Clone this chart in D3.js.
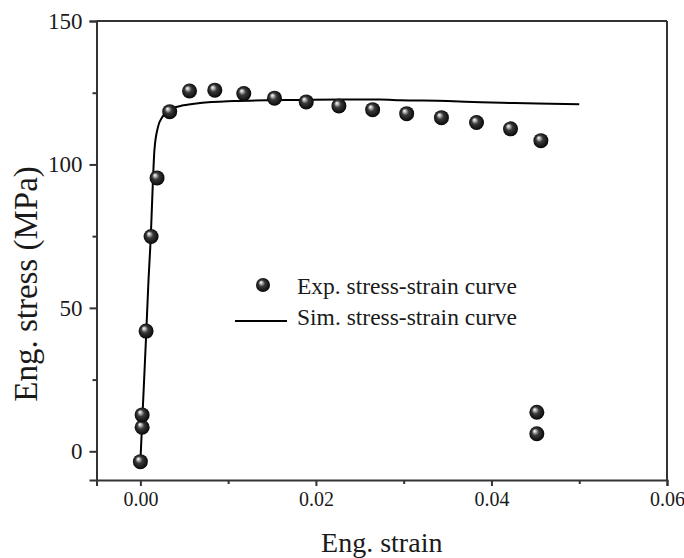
<!DOCTYPE html>
<html>
<head>
<meta charset="utf-8">
<script src="https://cdn.jsdelivr.net/npm/d3@7"></script>
<style>
  body { margin: 0; background: #fff; }
  text { font-family: "Liberation Serif", "Times New Roman", serif; fill: #1a1a1a; }
</style>
</head>
<body>
<div id="chart"></div>
<script>
// Experimental points (strain, stress in MPa)
const expStrain = [0.0000, 0.0002, 0.0002, 0.00065, 0.00122, 0.0019, 0.00334, 0.0056, 0.00848, 0.01178,
  0.01528, 0.0189, 0.02262, 0.02646, 0.03034, 0.0343, 0.0383, 0.04217, 0.04563, 0.04517, 0.04517];
const expStress = [-3.6, 8.4, 12.7, 41.9, 74.9, 95.3, 118.4, 125.6, 125.9, 124.7,
  123.1, 121.8, 120.4, 119.1, 117.7, 116.3, 114.6, 112.4, 108.3, 13.6, 6.1];

// Simulated curve
const simStrain = [0, 0.0002, 0.00065, 0.0009, 0.0012, 0.0014, 0.0016, 0.0020, 0.0025, 0.0034, 0.0049,
  0.0068, 0.0106, 0.0144, 0.0182, 0.0230, 0.0273, 0.0296, 0.0350, 0.0388, 0.0426, 0.0452, 0.0500];
const simStress = [-3.6, 10, 40, 58, 76, 92, 105, 113, 116.5, 119.1, 120.6,
  121.4, 122.1, 122.4, 122.5, 122.6, 122.6, 122.4, 122.1, 121.7, 121.4, 121.2, 121.0];

// Axis ticks
const xTicks = [0, 0.02, 0.04, 0.06];
const xMinor = [0.01, 0.03, 0.05];
const yTicks = [0, 50, 100, 150];
const yMinor = [25, 75, 125];

const margin = { top: 21, right: 17, bottom: 78, left: 96.5 };
const width = 684 - margin.left - margin.right;
const height = 558 - margin.top - margin.bottom;

const root = d3.select("#chart")
  .append("svg")
  .attr("width", 684)
  .attr("height", 558);

// shiny sphere look for the markers
const grad = root.append("defs").append("radialGradient")
  .attr("id", "ball")
  .attr("cx", "50%").attr("cy", "50%").attr("r", "55%")
  .attr("fx", "34%").attr("fy", "30%");
grad.append("stop").attr("offset", "0%").attr("stop-color", "#ffffff");
grad.append("stop").attr("offset", "14%").attr("stop-color", "#c8c8c8");
grad.append("stop").attr("offset", "42%").attr("stop-color", "#3a3a3a");
grad.append("stop").attr("offset", "100%").attr("stop-color", "#000000");

const svg = root.append("g")
  .attr("transform", `translate(${margin.left},${margin.top})`);

const x = d3.scaleLinear().domain([-0.005, 0.06]).range([0, width]);
const y = d3.scaleLinear().domain([-10, 150]).range([height, 0]);

// X axis (major + minor ticks)
const xAxis = svg.append("g")
  .attr("transform", `translate(0,${height})`)
  .call(d3.axisBottom(x).tickValues(xTicks).tickFormat(d3.format(".2f")).tickSize(6).tickPadding(6));
xAxis.selectAll("text").style("font-size", "20px");
svg.append("g")
  .attr("transform", `translate(0,${height})`)
  .call(d3.axisBottom(x).tickValues(xMinor).tickFormat("").tickSize(4))
  .select(".domain").remove();

// Y axis
const yAxis = svg.append("g")
  .call(d3.axisLeft(y).tickValues(yTicks).tickSize(7).tickPadding(7));
yAxis.selectAll("text").style("font-size", "23px");
svg.append("g")
  .call(d3.axisLeft(y).tickValues(yMinor).tickFormat("").tickSize(4))
  .select(".domain").remove();

svg.selectAll(".domain").attr("stroke", "#333").attr("stroke-width", 2);
svg.selectAll(".tick line").attr("stroke", "#333").attr("stroke-width", 2);

// top and right frame lines
svg.append("line")
  .attr("x1", 0).attr("x2", width).attr("y1", 0).attr("y2", 0)
  .attr("stroke", "#333").attr("stroke-width", 2);
svg.append("line")
  .attr("x1", width).attr("x2", width).attr("y1", 0).attr("y2", height)
  .attr("stroke", "#333").attr("stroke-width", 2);

// simulated curve
const simData = simStrain.map((s, i) => ({ strain: s, stress: simStress[i] }));
svg.append("path")
  .datum(simData)
  .attr("fill", "none")
  .attr("stroke", "#000")
  .attr("stroke-width", 2)
  .attr("d", d3.line()
    .curve(d3.curveMonotoneX)
    .x(d => x(d.strain))
    .y(d => y(d.stress)));

// experimental points
const expData = expStrain.map((s, i) => ({ strain: s, stress: expStress[i] }));
svg.selectAll("circle.exp")
  .data(expData)
  .enter()
  .append("circle")
  .attr("class", "exp")
  .attr("cx", d => x(d.strain))
  .attr("cy", d => y(d.stress))
  .attr("r", 7.5)
  .attr("fill", "url(#ball)");

// legend
const legend = root.append("g");
legend.append("circle")
  .attr("cx", 263).attr("cy", 285).attr("r", 7)
  .attr("fill", "url(#ball)");
legend.append("text")
  .attr("x", 297).attr("y", 294)
  .style("font-size", "23.5px")
  .text("Exp. stress-strain curve");
legend.append("line")
  .attr("x1", 235).attr("x2", 287).attr("y1", 321).attr("y2", 321)
  .attr("stroke", "#000").attr("stroke-width", 2);
legend.append("text")
  .attr("x", 297).attr("y", 325)
  .style("font-size", "23.5px")
  .text("Sim. stress-strain curve");

// axis titles
root.append("text")
  .attr("x", margin.left + width / 2)
  .attr("y", 552)
  .style("text-anchor", "middle")
  .style("font-size", "28px")
  .text("Eng. strain");

root.append("text")
  .attr("transform", "rotate(-90)")
  .attr("x", -284)
  .attr("y", 37)
  .style("text-anchor", "middle")
  .style("font-size", "33px")
  .text("Eng. stress (MPa)");
</script>
</body>
</html>
